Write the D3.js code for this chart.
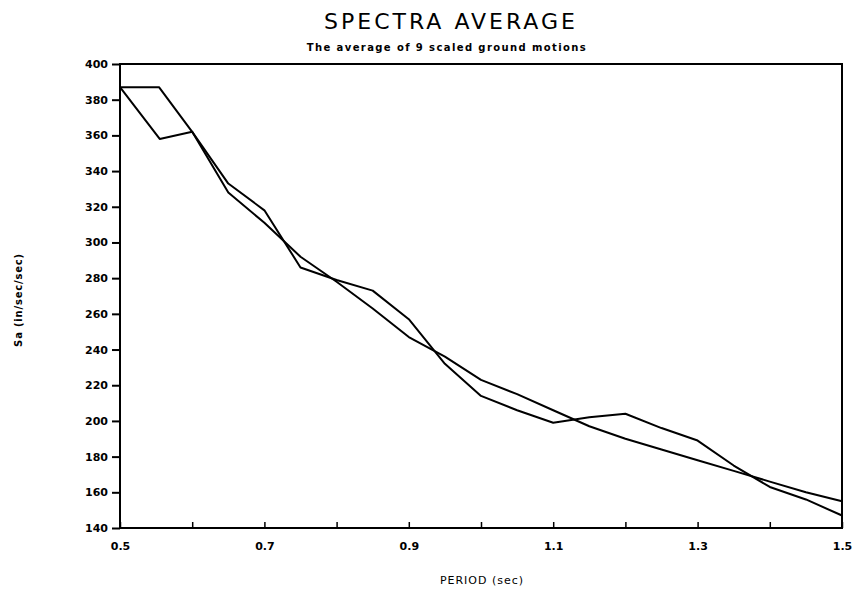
<!DOCTYPE html>
<html>
<head>
<meta charset="utf-8">
<script src="https://cdn.jsdelivr.net/npm/d3@7"></script>
<style>
  html, body { margin: 0; padding: 0; background: #fff; }
  svg { display: block; }
  text { fill: #000; }
</style>
</head>
<body>
<svg id="chart" width="853" height="595"></svg>
<script>
// Spectral acceleration vs. period for the two spectra
const periodA = [0.5, 0.554, 0.6, 0.65, 0.7, 0.75, 0.8, 0.85, 0.9, 0.95, 1.0, 1.05, 1.1, 1.15, 1.2, 1.25, 1.3, 1.35, 1.4, 1.45, 1.5];
const saA     = [387, 387, 362, 328, 311, 292, 278, 263, 247, 236, 223, 215, 206, 197, 190, 184, 178, 172, 166, 160, 155];

const periodB = [0.5, 0.555, 0.6, 0.65, 0.7, 0.75, 0.8, 0.85, 0.9, 0.95, 1.0, 1.05, 1.1, 1.15, 1.2, 1.25, 1.3, 1.35, 1.4, 1.45, 1.5];
const saB     = [387, 358, 362, 333, 318, 286, 279, 273, 257, 232, 214, 206, 199, 202, 204, 196, 189, 175, 163, 156, 147];

const xTicks = [0.5, 0.6, 0.7, 0.8, 0.9, 1.0, 1.1, 1.2, 1.3, 1.4, 1.5];
const xTickLabels = [0.5, 0.7, 0.9, 1.1, 1.3, 1.5];
const yTicks = [140, 160, 180, 200, 220, 240, 260, 280, 300, 320, 340, 360, 380, 400];

const titleText = "SPECTRA AVERAGE";
const subtitleText = "The average of 9 scaled ground motions";
const xTitle = "PERIOD (sec)";
const yTitle = "Sa (in/sec/sec)";

const svg = d3.select("#chart");
const plot = { left: 120, right: 842, top: 64, bottom: 528 };

const x = d3.scaleLinear().domain([0.5, 1.5]).range([plot.left, plot.right]);
const y = d3.scaleLinear().domain([140, 400]).range([plot.bottom, plot.top]);

const tickFont = "'DejaVu Sans', Verdana, sans-serif";

// Frame
svg.append("rect")
  .attr("x", plot.left).attr("y", plot.top)
  .attr("width", plot.right - plot.left).attr("height", plot.bottom - plot.top)
  .attr("fill", "none").attr("stroke", "#000").attr("stroke-width", 2);

// Y axis: outward ticks with bold labels
const yAxis = d3.axisLeft(y).tickValues(yTicks).tickSize(8).tickPadding(4).tickFormat(d3.format("d"));
const gy = svg.append("g").attr("transform", `translate(${plot.left},0)`).call(yAxis);
gy.select(".domain").remove();
gy.selectAll(".tick line").attr("stroke", "#000").attr("stroke-width", 2);
gy.selectAll(".tick text")
  .style("font-family", tickFont).style("font-size", "11px").style("font-weight", "bold")
  .attr("fill", "#000");

// X axis: inward ticks every 0.1, labels every 0.2
const xAxis = d3.axisBottom(x).tickValues(xTicks).tickSize(-6).tickPadding(14)
  .tickFormat(d => xTickLabels.some(v => Math.abs(v - d) < 1e-9) ? d3.format(".1f")(d) : "");
const gx = svg.append("g").attr("transform", `translate(0,${plot.bottom})`).call(xAxis);
gx.select(".domain").remove();
gx.selectAll(".tick line").attr("stroke", "#000").attr("stroke-width", 1.5);
gx.selectAll(".tick text")
  .style("font-family", tickFont).style("font-size", "11px").style("font-weight", "bold")
  .attr("fill", "#000");

// Spectra
const line = d3.line().x(d => x(d[0])).y(d => y(d[1]));
const seriesA = d3.zip(periodA, saA);
const seriesB = d3.zip(periodB, saB);
[seriesA, seriesB].forEach(s => {
  svg.append("path").datum(s)
    .attr("d", line)
    .attr("fill", "none")
    .attr("stroke", "#000")
    .attr("stroke-width", 2)
    .attr("stroke-linejoin", "round");
});

// Titles
svg.append("text")
  .attr("x", 451).attr("y", 29)
  .attr("text-anchor", "middle")
  .style("font-family", tickFont).style("font-size", "22px")
  .style("letter-spacing", "3px")
  .text(titleText);

svg.append("text")
  .attr("x", 447).attr("y", 51)
  .attr("text-anchor", "middle")
  .style("font-family", tickFont).style("font-size", "10px").style("font-weight", "bold")
  .style("letter-spacing", "1.4px")
  .text(subtitleText);

svg.append("text")
  .attr("x", 482).attr("y", 584)
  .attr("text-anchor", "middle")
  .style("font-family", tickFont).style("font-size", "11px")
  .style("letter-spacing", "1px")
  .text(xTitle);

svg.append("text")
  .attr("transform", "translate(22,300) rotate(-90)")
  .attr("text-anchor", "middle")
  .style("font-family", tickFont).style("font-size", "10px").style("font-weight", "bold")
  .style("letter-spacing", "0.8px")
  .text(yTitle);
</script>
</body>
</html>
